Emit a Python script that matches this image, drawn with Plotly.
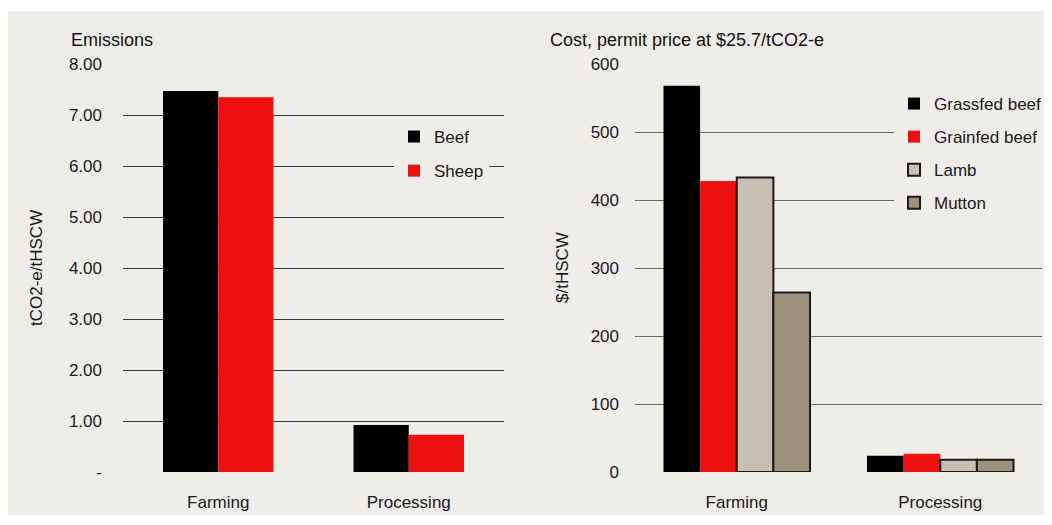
import plotly.graph_objects as go

categories = ["Farming", "Processing"]

# Left panel: Emissions (tCO2-e/tHSCW)
emis_beef = [7.47, 0.92]
emis_sheep = [7.35, 0.73]
emis_ticks = [0, 1, 2, 3, 4, 5, 6, 7, 8]
emis_ticktext = ["-", "1.00", "2.00", "3.00", "4.00", "5.00", "6.00", "7.00", "8.00"]

# Right panel: Cost ($/tHSCW)
cost_grassfed = [568, 24]
cost_grainfed = [428, 27]
cost_lamb = [433, 18]
cost_mutton = [264, 18]
cost_ticks = [0, 100, 200, 300, 400, 500, 600]

FONT = "Liberation Sans, Arial, sans-serif"
PANEL = "#efede8"
RED = "#ee1111"

# page has an 8px body margin; figure sized so the page fits the window exactly
OFF = 8
W = 1052 - 2 * OFF
H = 525 - 2 * OFF


def px(x):
    return (x - OFF) / W


def py(y):
    return 1 - (y - OFF) / H


fig = go.Figure()

lw = 0.29
fig.add_trace(go.Bar(x=categories, y=emis_beef, name="Beef", marker=dict(color="black", line=dict(width=0)),
                     offset=-lw, width=lw, xaxis="x", yaxis="y", legend="legend", legendgroup="a"))
fig.add_trace(go.Bar(x=categories, y=emis_sheep, name="Sheep", marker=dict(color=RED, line=dict(width=0)),
                     offset=0, width=lw, xaxis="x", yaxis="y", legend="legend", legendgroup="b"))

rw = 0.18
specs = [("Grassfed beef", cost_grassfed, "black", 0),
         ("Grainfed beef", cost_grainfed, RED, 0),
         ("Lamb", cost_lamb, "#c8bfb2", 2),
         ("Mutton", cost_mutton, "#9c917d", 2)]
for i, (nm, vals, col, lwid) in enumerate(specs):
    fig.add_trace(go.Bar(x=categories, y=vals, name=nm,
                         marker=dict(color=col, line=dict(width=lwid, color="#1a1a1a")),
                         offset=-2 * rw + i * rw, width=rw, xaxis="x2", yaxis="y2",
                         legend="legend2", legendgroup="g%d" % i))

ydom = [py(472), py(64)]

fig.update_layout(
    width=W, height=H,
    margin=dict(l=0, r=0, t=0, b=0, autoexpand=False),
    paper_bgcolor="white",
    plot_bgcolor="rgba(0,0,0,0)",
    font=dict(family=FONT, size=17, color="#1a1a1a"),
    barmode="overlay",
    xaxis=dict(domain=[px(123), px(504)], showgrid=False, showline=False, ticks="", automargin=False,
               ticklabelstandoff=18, tickfont=dict(size=17)),
    yaxis=dict(domain=ydom, range=[0, 8], tickvals=emis_ticks, ticktext=emis_ticktext, automargin=False,
               showgrid=True, gridcolor="#3a3a3a", gridwidth=1, zeroline=False, showline=False,
               ticks="", ticklabelstandoff=20, tickfont=dict(size=17)),
    xaxis2=dict(domain=[px(635), px(1042)], anchor="y2", showgrid=False, showline=False, ticks="",
                automargin=False, ticklabelstandoff=18, tickfont=dict(size=17)),
    yaxis2=dict(domain=ydom, anchor="x2", range=[0, 600], tickvals=cost_ticks, automargin=False,
                showgrid=True, gridcolor="#666666", gridwidth=1, zeroline=False, showline=False,
                ticks="", ticklabelstandoff=15, tickfont=dict(size=17)),
    legend=dict(x=px(394), y=py(119), xanchor="left", yanchor="top", bgcolor=PANEL,
                font=dict(size=17), tracegroupgap=9, itemclick=False),
    legend2=dict(x=px(894), y=py(86), xanchor="left", yanchor="top", bgcolor=PANEL,
                 font=dict(size=17), tracegroupgap=8, itemclick=False),
    shapes=[dict(type="rect", xref="paper", yref="paper", x0=0, x1=1.0, y0=py(515), y1=py(11),
                 fillcolor=PANEL, line=dict(width=0), layer="below")],
    annotations=[
        dict(text="Emissions", xref="paper", yref="paper", x=px(69), y=py(40), xanchor="left",
             yanchor="middle", showarrow=False, font=dict(size=18, color="#111")),
        dict(text="Cost, permit price at $25.7/tCO2-e", xref="paper", yref="paper", x=px(548), y=py(40),
             xanchor="left", yanchor="middle", showarrow=False, font=dict(size=18, color="#111")),
        dict(text="tCO2-e/tHSCW", xref="paper", yref="paper", x=px(36), y=py(268), textangle=-90,
             xanchor="center", yanchor="middle", showarrow=False, font=dict(size=17)),
        dict(text="$/tHSCW", xref="paper", yref="paper", x=px(562), y=py(268), textangle=-90,
             xanchor="center", yanchor="middle", showarrow=False, font=dict(size=17)),
    ],
)

fig.write_html("out.html")
